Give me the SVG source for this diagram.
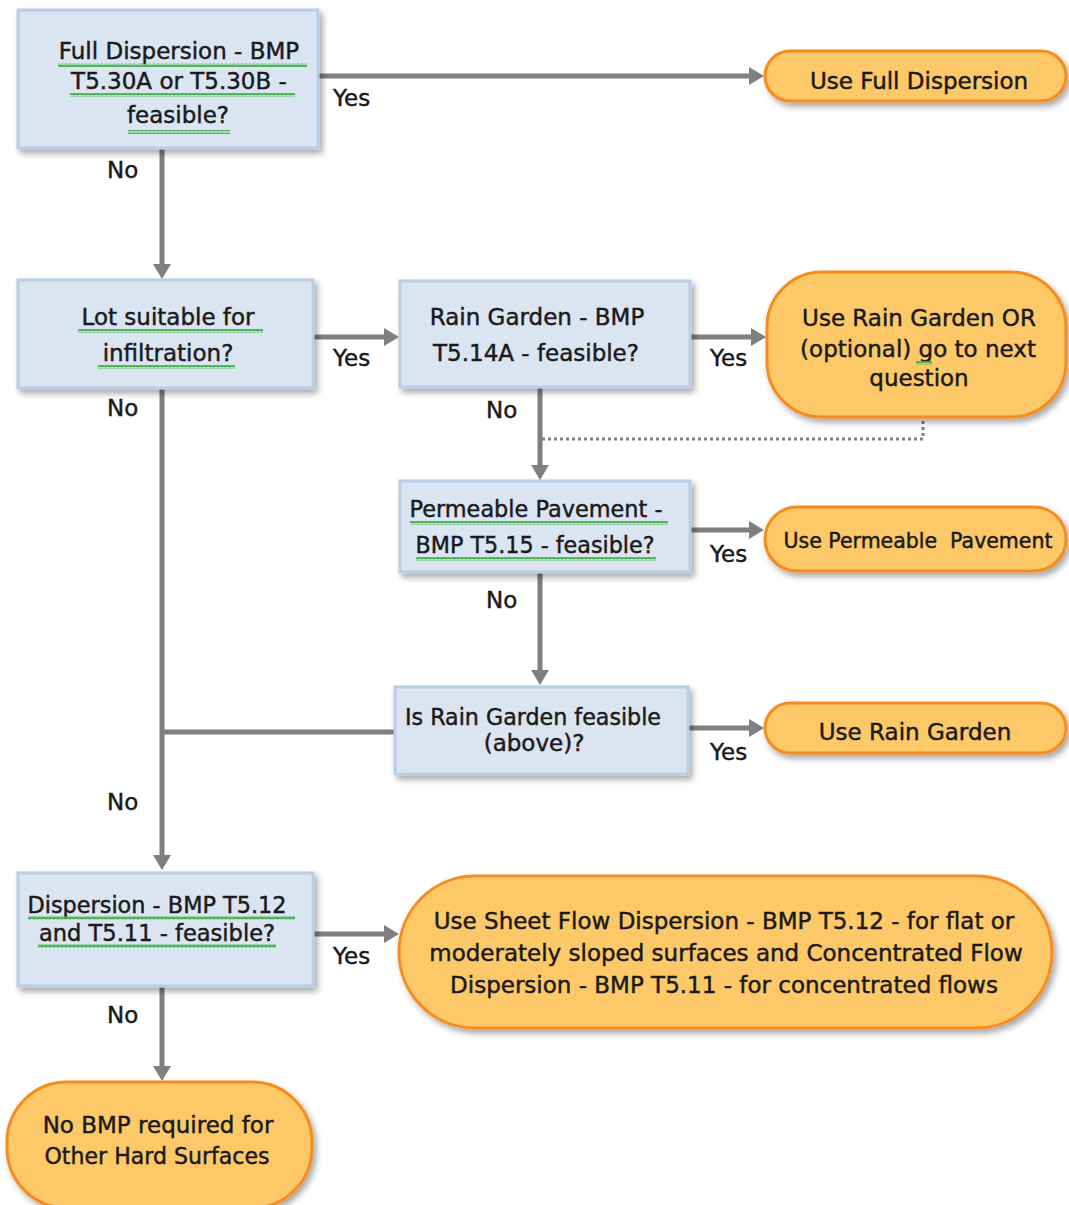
<svg xmlns="http://www.w3.org/2000/svg" width="1069" height="1205" viewBox="0 0 1069 1205">
<style>
  .box { fill: #dbe5f1; stroke: #b9cde5; stroke-width: 3; filter: url(#sh); }
  .pill { fill: #fdc967; stroke: #f58c1f; stroke-width: 3; filter: url(#sh); }
  .t { font-family: "DejaVu Sans", Verdana, sans-serif; font-size: 23px; fill: #1a1a1a; stroke: #1a1a1a; stroke-width: 0.45; text-anchor: middle; }
  .lbl { font-family: "DejaVu Sans", Verdana, sans-serif; font-size: 23px; fill: #1a1a1a; stroke: #1a1a1a; stroke-width: 0.45; }
  .c { fill: none; stroke: #7f7f7f; stroke-width: 5; }
  .ca { fill: none; stroke: #7f7f7f; stroke-width: 5; marker-end: url(#ah); }
  .dot { fill: none; stroke: #7f7f7f; stroke-width: 3; stroke-dasharray: 3 3; }
  .wv { fill: url(#wavy); }
</style>
<defs>
  <filter id="sh" x="-10%" y="-10%" width="130%" height="140%">
    <feDropShadow dx="3" dy="4" stdDeviation="3" flood-color="#000" flood-opacity="0.35"/>
  </filter>
  <marker id="ah" markerWidth="16" markerHeight="18" refX="1" refY="9" orient="auto" markerUnits="userSpaceOnUse">
    <path d="M0,0 L15,9 L0,18 Z" fill="#7f7f7f"/>
  </marker>
  <pattern id="wavy" width="4" height="4" patternUnits="userSpaceOnUse">
    <path d="M0,3 L1,1 L2,3 L3,1 L4,3" fill="none" stroke="#44b04c" stroke-width="1.2"/>
  </pattern>
</defs>

<g id="connectors">
  <line class="ca" x1="318" y1="76" x2="750" y2="76"/>
  <line class="ca" x1="162" y1="148" x2="162" y2="265"/>
  <line class="ca" x1="313" y1="337" x2="385" y2="337"/>
  <line class="ca" x1="690" y1="337" x2="752" y2="337"/>
  <line class="ca" x1="540" y1="387" x2="540" y2="466"/>
  <polyline class="dot" points="923,403 923,439 542,439"/>
  <line class="ca" x1="690" y1="530" x2="750" y2="530"/>
  <line class="ca" x1="540" y1="572" x2="540" y2="671"/>
  <line class="ca" x1="688" y1="728" x2="750" y2="728"/>
  <line class="c" x1="395" y1="732" x2="162" y2="732"/>
  <line class="ca" x1="162" y1="388" x2="162" y2="856"/>
  <line class="ca" x1="313" y1="934" x2="385" y2="934"/>
  <line class="ca" x1="162" y1="986" x2="162" y2="1067"/>
  <text class="lbl" x="333" y="106">Yes</text>
  <text class="lbl" x="107" y="178">No</text>
  <text class="lbl" x="333" y="366">Yes</text>
  <text class="lbl" x="710" y="366">Yes</text>
  <text class="lbl" x="107" y="416">No</text>
  <text class="lbl" x="486" y="418">No</text>
  <text class="lbl" x="710" y="562">Yes</text>
  <text class="lbl" x="486" y="608">No</text>
  <text class="lbl" x="710" y="760">Yes</text>
  <text class="lbl" x="107" y="810">No</text>
  <text class="lbl" x="333" y="964">Yes</text>
  <text class="lbl" x="107" y="1023">No</text>
</g>

<g id="full-dispersion-q">
  <rect class="box" x="18" y="10" width="300" height="138"/>
  <text class="t" x="179" y="59">Full Dispersion - BMP</text>
  <text class="t" x="179" y="89">T5.30A or T5.30B -</text>
  <text class="t" x="178" y="123">feasible?</text>
  <rect class="wv" x="58" y="63" width="249" height="4"/>
  <rect class="wv" x="70" y="93" width="225" height="4"/>
  <rect class="wv" x="128" y="130" width="102" height="4"/>
</g>

<g id="use-full-dispersion">
  <rect class="pill" x="765" y="51" width="301" height="50" rx="25"/>
  <text class="t" x="919" y="89">Use Full Dispersion</text>
</g>

<g id="lot-suitable-q">
  <rect class="box" x="18" y="280" width="295" height="108"/>
  <text class="t" x="168" y="325">Lot suitable for</text>
  <text class="t" x="168" y="361">infiltration?</text>
  <rect class="wv" x="78" y="329" width="185" height="4"/>
  <rect class="wv" x="98" y="365" width="137" height="4"/>
</g>

<g id="rain-garden-q">
  <rect class="box" x="400" y="281" width="290" height="106"/>
  <text class="t" x="537" y="325">Rain Garden - BMP</text>
  <text class="t" x="536" y="361">T5.14A - feasible?</text>
</g>

<g id="use-rain-garden-or">
  <rect class="pill" x="767" y="272" width="299" height="145" rx="55"/>
  <text class="t" x="919" y="326">Use Rain Garden OR</text>
  <text class="t" x="918" y="357">(optional) go to next</text>
  <text class="t" x="919" y="386">question</text>
  <rect class="wv" x="916" y="361" width="16" height="4"/>
</g>

<g id="permeable-pavement-q">
  <rect class="box" x="400" y="481" width="290" height="91"/>
  <text class="t" x="536" y="517" textLength="253" lengthAdjust="spacingAndGlyphs">Permeable Pavement -</text>
  <text class="t" x="535" y="553" textLength="239" lengthAdjust="spacingAndGlyphs">BMP T5.15 - feasible?</text>
  <rect class="wv" x="410" y="521" width="258" height="4"/>
  <rect class="wv" x="416" y="557" width="240" height="4"/>
</g>

<g id="use-permeable-pavement">
  <rect class="pill" x="765" y="507" width="301" height="64" rx="32"/>
  <text class="t" x="918" y="548" style="font-size:20.5px" xml:space="preserve">Use Permeable  Pavement</text>
</g>

<g id="rain-garden-above-q">
  <rect class="box" x="395" y="687" width="293" height="87"/>
  <text class="t" x="533" y="725" textLength="256" lengthAdjust="spacingAndGlyphs">Is Rain Garden feasible</text>
  <text class="t" x="534" y="751">(above)?</text>
</g>

<g id="use-rain-garden">
  <rect class="pill" x="765" y="703" width="301" height="50" rx="25"/>
  <text class="t" x="915" y="740">Use Rain Garden</text>
</g>

<g id="dispersion-q">
  <rect class="box" x="18" y="873" width="295" height="113"/>
  <text class="t" x="157" y="913" textLength="259" lengthAdjust="spacingAndGlyphs">Dispersion - BMP T5.12</text>
  <text class="t" x="157" y="941" textLength="236" lengthAdjust="spacingAndGlyphs">and T5.11 - feasible?</text>
  <rect class="wv" x="28" y="916" width="267" height="4"/>
  <rect class="wv" x="38" y="944" width="238" height="4"/>
</g>

<g id="use-sheet-flow">
  <rect class="pill" x="399" y="876" width="653" height="152" rx="76"/>
  <text class="t" x="724" y="929">Use Sheet Flow Dispersion - BMP T5.12 - for flat or</text>
  <text class="t" x="726" y="961">moderately sloped surfaces and Concentrated Flow</text>
  <text class="t" x="724" y="993">Dispersion - BMP T5.11 - for concentrated flows</text>
</g>

<g id="no-bmp-required">
  <rect class="pill" x="7" y="1082" width="305" height="126" rx="60"/>
  <text class="t" x="158" y="1133">No BMP required for</text>
  <text class="t" x="157" y="1164" textLength="225" lengthAdjust="spacingAndGlyphs">Other Hard Surfaces</text>
</g>
</svg>
